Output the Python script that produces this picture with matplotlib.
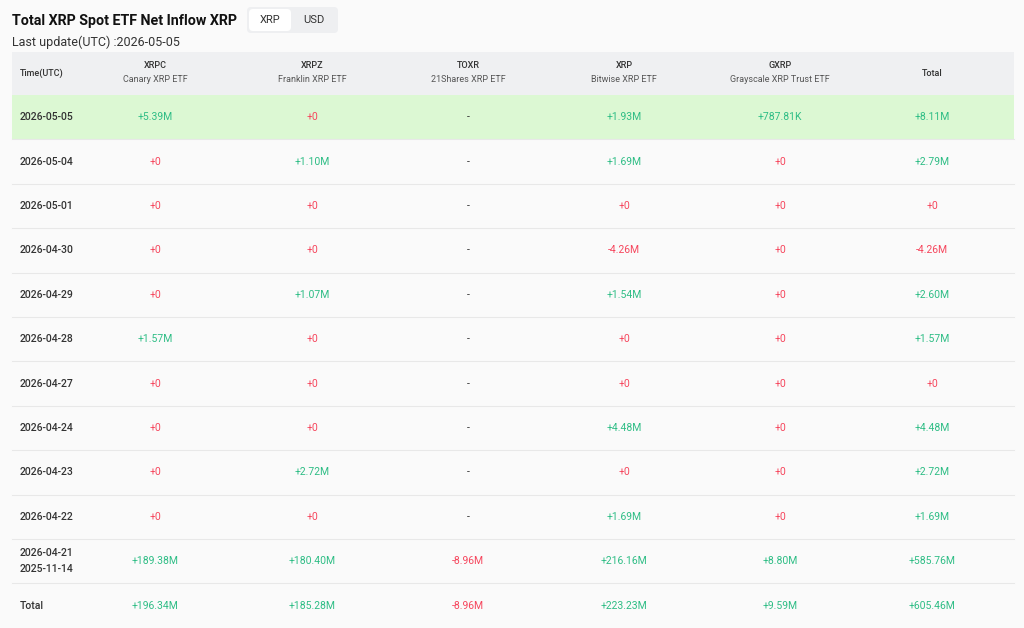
import matplotlib
matplotlib.use("Agg")
import matplotlib.pyplot as plt
from matplotlib.patches import Rectangle, FancyBboxPatch

plt.rcParams['font.family'] = ['Roboto', 'DejaVu Sans']

tickers = ["XRPC", "XRPZ", "TOXR", "XRP", "GXRP", "Total"]
fund_names = ["Canary XRP ETF", "Franklin XRP ETF", "21Shares XRP ETF",
              "Bitwise XRP ETF", "Grayscale XRP Trust ETF", ""]
dates = ["2026-05-05", "2026-05-04", "2026-05-01", "2026-04-30", "2026-04-29",
         "2026-04-28", "2026-04-27", "2026-04-24", "2026-04-23", "2026-04-22",
         "2026-04-21\n2025-11-14", "Total"]
xrpc = ["+5.39M", "+0", "+0", "+0", "+0", "+1.57M", "+0", "+0", "+0", "+0", "+189.38M", "+196.34M"]
xrpz = ["+0", "+1.10M", "+0", "+0", "+1.07M", "+0", "+0", "+0", "+2.72M", "+0", "+180.40M", "+185.28M"]
toxr = ["-", "-", "-", "-", "-", "-", "-", "-", "-", "-", "-8.96M", "-8.96M"]
xrp = ["+1.93M", "+1.69M", "+0", "-4.26M", "+1.54M", "+0", "+0", "+4.48M", "+0", "+1.69M", "+216.16M", "+223.23M"]
gxrp = ["+787.81K", "+0", "+0", "+0", "+0", "+0", "+0", "+0", "+0", "+0", "+8.80M", "+9.59M"]
total = ["+8.11M", "+2.79M", "+0", "-4.26M", "+2.60M", "+1.57M", "+0", "+4.48M", "+2.72M", "+1.69M", "+585.76M", "+605.46M"]
columns = [xrpc, xrpz, toxr, xrp, gxrp, total]

GREEN = "#2ebd85"
RED = "#f6465d"

def value_color(s):
    if s == "-":
        return "#333333"
    if s == "+0" or s.startswith("-"):
        return RED
    return GREEN

fig = plt.figure(figsize=(10.24, 6.28), dpi=100)
fig.patch.set_facecolor("#fafafa")
ax = fig.add_axes([0, 0, 1, 1])
ax.set_xlim(0, 1024)
ax.set_ylim(628, 0)
ax.axis("off")

ax.text(12, 21, "Total XRP Spot ETF Net Inflow XRP", fontsize=10.3, fontweight="bold",
        va="center", color="#111111")
ax.add_patch(FancyBboxPatch((247, 7), 91, 26, boxstyle="round,pad=0,rounding_size=4",
                            fc="#eeeff1", ec="none"))
ax.add_patch(FancyBboxPatch((249, 9), 42, 22, boxstyle="round,pad=0,rounding_size=4",
                            fc="white", ec="none"))
ax.text(270, 20, "XRP", fontsize=8, ha="center", va="center", color="#333333")
ax.text(314, 20, "USD", fontsize=8, ha="center", va="center", color="#333333")
ax.text(12, 42, "Last update(UTC) :2026-05-05", fontsize=9, va="center", color="#333333")

left, right = 12, 1014
header_top, header_bot = 52, 95
row_h = 44.4
col_x = [155, 312, 468, 624, 780, 932]

ax.add_patch(Rectangle((left, header_top), right - left, header_bot - header_top,
                       fc="#eff0f2", ec="none"))
ax.text(20, 73, "Time(UTC)", fontsize=6.5, fontweight="medium", va="center", color="#333333")
for x, t, n in zip(col_x, tickers, fund_names):
    if n:
        ax.text(x, 66, t, fontsize=6.5, fontweight="medium", ha="center", va="center", color="#333333")
        ax.text(x, 79, n, fontsize=6.5, ha="center", va="center", color="#555555")
    else:
        ax.text(x, 73, t, fontsize=6.5, fontweight="medium", ha="center", va="center", color="#333333")

for i, d in enumerate(dates):
    top = header_bot + i * row_h
    cy = top + row_h / 2
    if i == 0:
        ax.add_patch(Rectangle((left, top), right - left, row_h, fc="#dcf8d3", ec="none"))
    if i > 0:
        ax.plot([left, right], [top, top], color="#e8e8e8", lw=0.8)
    ax.text(20, cy, d, fontsize=7.5, fontweight="medium", va="center", color="#333333",
            linespacing=1.8)
    for x, col in zip(col_x, columns):
        ax.text(x, cy, col[i], fontsize=7.5, ha="center", va="center", color=value_color(col[i]))

fig.savefig("out.png", dpi=100, facecolor=fig.get_facecolor())
